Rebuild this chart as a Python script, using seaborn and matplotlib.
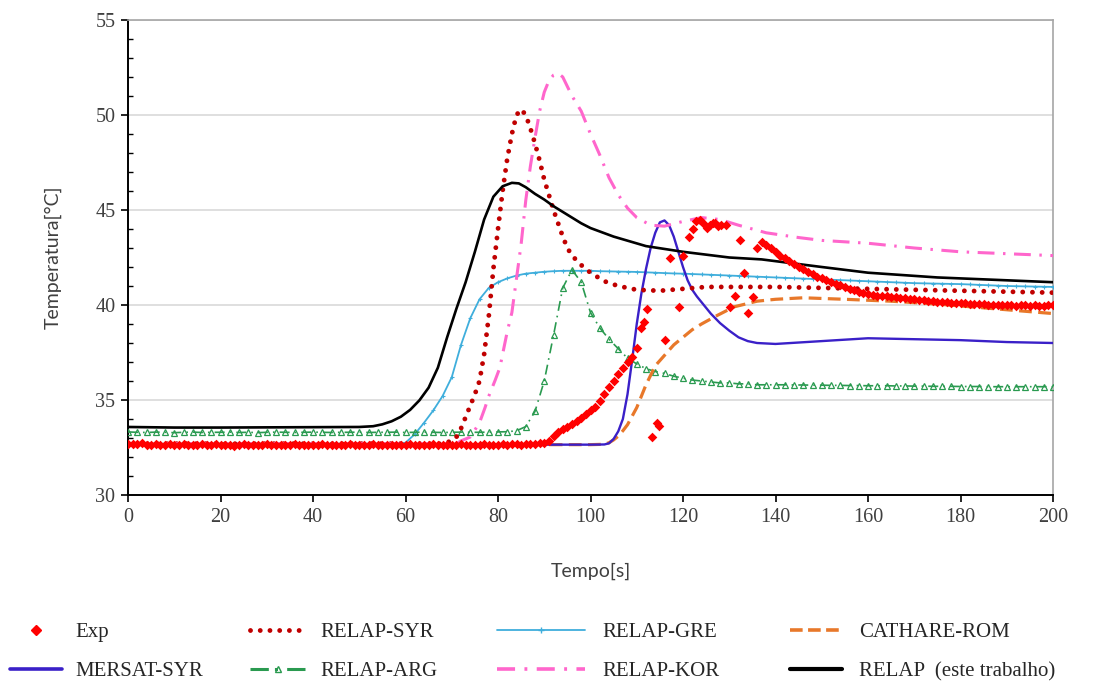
import numpy as np
import pandas as pd
import matplotlib
matplotlib.use("Agg")
import matplotlib.pyplot as plt
import seaborn as sns
from matplotlib.lines import Line2D
from matplotlib.ticker import MultipleLocator

# ---------------- data ----------------
exp_t = list(range(0, 91)) + [
    91, 92, 93, 94, 95, 96, 97, 98, 99, 100, 101, 102, 103, 104, 105, 106, 107, 108, 109, 110,
    111, 111.6, 112.2, 113.3, 114.3, 114.9, 116.1, 117.2, 119.2, 120.1, 121.3, 122.2, 122.9,
    123.7, 124.4, 125.1, 125.8, 126.4, 127.0, 127.6, 128.3, 129.3, 130.2, 131.2, 132.3, 133.2,
    134.1, 135.2, 136.0] + list(range(137, 201))
exp_y = [
    32.70, 32.68, 32.66, 32.72, 32.65, 32.63, 32.67, 32.64, 32.62, 32.66,
    32.65, 32.63, 32.66, 32.64, 32.61, 32.65, 32.67, 32.63, 32.64, 32.66,
    32.62, 32.65, 32.63, 32.60, 32.64, 32.66, 32.63, 32.65, 32.62, 32.64,
    32.66, 32.63, 32.65, 32.61, 32.64, 32.62, 32.66, 32.64, 32.63, 32.65,
    32.62, 32.64, 32.66, 32.63, 32.61, 32.65, 32.64, 32.62, 32.66, 32.63,
    32.65, 32.62, 32.64, 32.66, 32.63, 32.65, 32.62, 32.64, 32.61, 32.65,
    32.63, 32.66, 32.64, 32.62, 32.65, 32.63, 32.66, 32.64, 32.62, 32.65,
    32.64, 32.62, 32.66, 32.63, 32.65, 32.64, 32.62, 32.66, 32.64, 32.63,
    32.65, 32.67, 32.64, 32.66, 32.68, 32.65, 32.67, 32.70, 32.68, 32.72,
    32.75,
    32.85, 33.10, 33.30, 33.45, 33.60, 33.75, 33.90, 34.05, 34.25, 34.45, 34.65, 34.95, 35.30,
    35.70, 36.00, 36.35, 36.70, 37.00, 37.25, 37.75,
    38.80, 39.10, 39.80, 33.05, 33.80, 33.65, 38.15, 42.50, 39.90, 42.60, 43.60, 44.00, 44.40,
    44.50, 44.30, 44.05, 44.20, 44.30, 44.30, 44.15, 44.20, 44.20, 39.90, 40.50, 43.40, 41.70,
    39.60, 40.40, 43.00,
    43.30, 43.15, 43.00, 42.80, 42.60, 42.50, 42.30, 42.15, 42.00, 41.90,
    41.75, 41.65, 41.50, 41.40, 41.30, 41.20, 41.10, 41.05, 40.95, 40.85,
    40.80, 40.70, 40.65, 40.60, 40.55, 40.50, 40.48, 40.45, 40.42, 40.40,
    40.38, 40.35, 40.33, 40.30, 40.28, 40.25, 40.23, 40.20, 40.18, 40.15,
    40.14, 40.12, 40.10, 40.10, 40.08, 40.05, 40.06, 40.05, 40.03, 40.00,
    40.02, 40.00, 39.98, 40.00, 40.02, 39.97, 39.98, 40.00, 39.96, 39.98,
    39.97, 39.95, 39.98, 40.00]

mersat_t = [0, 50, 100, 103, 104, 105, 106, 107, 108, 109, 110, 111, 112, 113, 114, 115, 116,
            117, 118, 119, 120, 121, 122, 123, 124, 126, 128, 130, 132, 134, 136, 140, 150, 160,
            170, 180, 190, 200]
mersat_y = [32.65, 32.65, 32.65, 32.66, 32.72, 32.95, 33.35, 34.00, 35.30, 37.10, 39.00, 40.60,
            41.90, 43.00, 43.80, 44.35, 44.45, 44.20, 43.60, 42.80, 42.00, 41.30, 40.80, 40.45,
            40.15, 39.55, 39.05, 38.65, 38.30, 38.10, 38.00, 37.95, 38.10, 38.25, 38.20, 38.15,
            38.05, 38.00]

syr_t = [0, 40, 68, 70, 71, 72, 73, 74, 75, 76, 77, 78, 79, 80, 81, 82, 83, 84, 85, 86, 87, 88,
         89, 90, 91, 92, 93, 94, 95, 96, 98, 100, 103, 106, 110, 115, 120, 125, 140, 160, 180, 200]
syr_y = [32.70, 32.70, 32.70, 32.85, 33.05, 33.50, 34.10, 34.70, 35.30, 36.00, 37.40, 39.40,
         41.90, 44.00, 46.00, 47.70, 49.00, 50.00, 50.30, 50.00, 49.30, 48.50, 47.60, 46.60,
         45.80, 45.00, 44.30, 43.60, 43.00, 42.60, 42.10, 41.70, 41.25, 41.00, 40.80, 40.75,
         40.85, 40.95, 40.95, 40.85, 40.75, 40.65]

arg_t = list(range(0, 201, 2))
arg_y = [33.32, 33.30, 33.29, 33.31, 33.30, 33.28, 33.30, 33.31, 33.29, 33.30,
         33.30, 33.31, 33.29, 33.30, 33.28, 33.30, 33.31, 33.30, 33.29, 33.30,
         33.31, 33.30, 33.29, 33.30, 33.30, 33.31, 33.29, 33.30, 33.30, 33.31,
         33.29, 33.30, 33.31, 33.30, 33.29, 33.30, 33.31, 33.30, 33.30, 33.31,
         33.32, 33.33, 33.38,
         33.60, 34.40, 36.00, 38.40, 40.90, 41.85, 41.20, 39.60, 38.80, 38.20,
         37.70, 37.20, 36.90, 36.65, 36.50, 36.40, 36.25, 36.15, 36.05, 36.00,
         35.95, 35.90, 35.90, 35.85, 35.85, 35.80, 35.80, 35.80, 35.80, 35.79,
         35.79, 35.78, 35.78, 35.77, 35.77, 35.76, 35.76, 35.75, 35.75, 35.75,
         35.74, 35.74, 35.73, 35.73, 35.72, 35.72, 35.72, 35.71, 35.71, 35.71,
         35.70, 35.70, 35.70, 35.70, 35.70, 35.70, 35.70, 35.70]

gre_t = list(range(0, 201, 2))
gre_y = [32.70, 32.70, 32.70, 32.70, 32.70, 32.70, 32.70, 32.70, 32.70, 32.70,
         32.70, 32.70, 32.70, 32.70, 32.70, 32.70, 32.70, 32.70, 32.70, 32.70,
         32.70, 32.70, 32.70, 32.70, 32.70, 32.70, 32.70, 32.70, 32.70, 32.70,
         32.75, 33.20, 33.80, 34.45, 35.20, 36.20, 37.90, 39.30, 40.30, 40.90,
         41.20, 41.40, 41.55, 41.65, 41.70, 41.75, 41.78, 41.80, 41.80, 41.80,
         41.80, 41.78, 41.77, 41.76, 41.75, 41.74, 41.72, 41.70, 41.68, 41.66,
         41.65, 41.63, 41.61, 41.59, 41.57, 41.55, 41.53, 41.51, 41.49, 41.47,
         41.45, 41.43, 41.41, 41.39, 41.37, 41.35, 41.33, 41.31, 41.29, 41.27,
         41.25, 41.23, 41.21, 41.19, 41.17, 41.15, 41.14, 41.13, 41.12, 41.11,
         41.10, 41.08, 41.06, 41.04, 41.02, 41.00, 40.99, 40.98, 40.97, 40.96,
         40.95]

kor_t = [0, 40, 71, 72, 74, 76, 77.2, 78, 79.4, 80.4, 82, 83, 84, 85, 86, 87, 88, 89, 90, 91, 92,
         93, 94, 95, 96, 97, 98, 100, 102, 104, 106, 108, 110, 113, 116, 120, 124, 128, 132, 138,
         145, 150, 160, 170, 180, 190, 200]
kor_y = [32.70, 32.70, 32.70, 32.85, 33.05, 33.80, 34.60, 35.20, 36.05, 36.70, 38.60, 39.60,
         41.40, 43.20, 45.50, 47.30, 48.80, 50.20, 51.20, 51.80, 52.10, 52.20, 52.00, 51.50,
         51.00, 50.60, 50.20, 49.00, 47.90, 46.70, 45.80, 45.10, 44.60, 44.20, 44.15, 44.40,
         44.60, 44.50, 44.20, 43.80, 43.55, 43.40, 43.25, 43.00, 42.80, 42.70, 42.60]

cath_t = [0, 50, 100, 103, 104, 105, 106, 107, 108, 110, 112, 114, 116, 118, 120, 122, 124, 127,
          131, 136, 140, 146, 155, 165, 175, 185, 195, 200]
cath_y = [32.65, 32.65, 32.65, 32.67, 32.75, 32.90, 33.10, 33.38, 33.70, 34.60, 35.80, 36.80,
          37.35, 37.90, 38.30, 38.70, 39.00, 39.40, 39.90, 40.20, 40.30, 40.38, 40.30, 40.20,
          40.05, 39.85, 39.65, 39.55]

relap_t = [0, 10, 20, 30, 40, 50, 53, 55, 57, 59, 61, 63, 65, 67, 69, 71, 73, 75, 77, 79, 81,
           83, 84.5, 86, 88, 90, 92, 95, 98, 100, 105, 112, 120, 130, 137, 150, 160, 175, 190,
           200]
relap_y = [33.58, 33.55, 33.55, 33.56, 33.57, 33.58, 33.62, 33.72, 33.88, 34.12, 34.48, 34.98,
           35.65, 36.70, 38.30, 39.80, 41.20, 42.80, 44.50, 45.70, 46.25, 46.43, 46.40, 46.20,
           45.85, 45.55, 45.20, 44.75, 44.30, 44.05, 43.60, 43.10, 42.80, 42.50, 42.40, 42.00,
           41.70, 41.45, 41.30, 41.20]

# ---------------- figure ----------------
sns.set_theme(style="ticks")
plt.rcParams["font.family"] = ["Liberation Serif", "DejaVu Sans"]

fig = plt.figure(figsize=(11.2, 6.86), dpi=100)
ax = fig.add_axes([128 / 1120, 1 - 495 / 686, (1053 - 128) / 1120, (495 - 20) / 686])


def draw(t, y, **kw):
    df = pd.DataFrame({"t": t, "y": y})
    sns.lineplot(data=df, x="t", y="y", ax=ax, estimator=None, sort=False,
                 legend=False, **kw)
    return ax.lines[-1]


c_exp = "#FF0000"
c_mer = "#3A20C8"
c_syr = "#C00000"
c_arg = "#2A9A50"
c_gre = "#3FAEDC"
c_kor = "#FF66CC"
c_cat = "#E8782A"
c_rel = "#000000"

l_gre = draw(gre_t, gre_y, color=c_gre, linewidth=1.3, marker="+", markersize=3.5,
             markeredgewidth=0.8, markeredgecolor=c_gre, zorder=3)
l_arg = draw(arg_t, arg_y, color=c_arg, linewidth=1.2, linestyle=(0, (6, 3, 1, 3)),
             marker="^", markersize=5, markerfacecolor="none", markeredgecolor=c_arg,
             markeredgewidth=0.9, zorder=3)
l_cat = draw(cath_t, cath_y, color=c_cat, linewidth=2.3, linestyle=(0, (4.0, 2.0)),
             zorder=4)
l_mer = draw(mersat_t, mersat_y, color=c_mer, linewidth=1.7, zorder=4)
l_syr = draw(syr_t, syr_y, color=c_syr, linewidth=3.5, linestyle=(0, (0.001, 2.0)),
             dash_capstyle="round", zorder=5)
l_kor = draw(kor_t, kor_y, color=c_kor, linewidth=2.2, linestyle=(0, (5.5, 2.8, 0.8, 2.8)),
             zorder=5)
l_rel = draw(relap_t, relap_y, color=c_rel, linewidth=1.9, zorder=6)

sns.scatterplot(x=exp_t, y=exp_y, ax=ax, marker="D", s=24, color=c_exp, linewidth=0,
                zorder=7, legend=False)

# axes styling
ax.set_xlim(0, 200)
ax.set_ylim(30, 55)
ax.xaxis.set_major_locator(MultipleLocator(20))
ax.yaxis.set_major_locator(MultipleLocator(5))
ax.yaxis.set_minor_locator(MultipleLocator(1))
ax.grid(axis="y", which="major", color="#D9D9D9", linewidth=1.2)
ax.set_axisbelow(True)
for s in ["left", "bottom"]:
    ax.spines[s].set_color("black")
    ax.spines[s].set_linewidth(1.4)
for s in ["top", "right"]:
    ax.spines[s].set_color("#A6A6A6")
    ax.spines[s].set_linewidth(1.2)
    ax.spines[s].set_visible(True)
ax.tick_params(axis="both", which="major", direction="out", length=5, width=1.2,
               color="black", labelsize=14.5, labelcolor="#404040", pad=4)
ax.tick_params(axis="y", which="minor", direction="in", length=3.5, width=1.0, color="black")
for lab in ax.get_xticklabels() + ax.get_yticklabels():
    lab.set_fontfamily("Liberation Serif")

ax.set_xlabel("Tempo[s]", fontsize=14, family="Lato", color="#404040", labelpad=26)
ax.set_ylabel("Temperatura[°C]", fontsize=14, family="Lato", color="#404040", labelpad=24)

# legends (4 columns x 2 rows, below the plot)
h_exp = Line2D([], [], linestyle="none", marker="D", markersize=5, color=c_exp)
h_mer = Line2D([], [], color=c_mer, linewidth=2.6)
h_syr = Line2D([], [], color=c_syr, linewidth=3.5, linestyle=(0, (0.001, 2.0)),
               dash_capstyle="round")
h_arg = Line2D([], [], color=c_arg, linewidth=2.2, linestyle=(0, (6, 2, 1, 3)), marker="^",
               markersize=5, markerfacecolor="none", markeredgecolor=c_arg)
h_gre = Line2D([], [], color=c_gre, linewidth=1.3, marker="+", markersize=4,
               markeredgecolor=c_gre)
h_kor = Line2D([], [], color=c_kor, linewidth=2.6, linestyle=(0, (5, 2.6, 0.8, 2.6)))
h_cat = Line2D([], [], color=c_cat, linewidth=2.6, linestyle=(0, (3.5, 1.5)))
h_rel = Line2D([], [], color=c_rel, linewidth=3.0)

yc = 1 - 652 / 686
fs = 15
specs = [
    ([h_exp, h_mer], ["Exp", "MERSAT-SYR"], 10, 2.5, 0.63),
    ([h_syr, h_arg], ["RELAP-SYR", "RELAP-ARG"], 250, 2.64, 0.72),
    ([h_gre, h_kor], ["RELAP-GRE", "RELAP-KOR"], 497, 4.2, 0.85),
    ([h_cat, h_rel], ["CATHARE-ROM", "RELAP  (este trabalho)"], 790, 2.5, 0.8),
]
for hs, ls, x0, hl, tp in specs:
    fig.legend(hs, ls, loc="center left", bbox_to_anchor=(x0 / 1120, yc),
               frameon=False, prop={"family": "Liberation Serif", "size": fs},
               handlelength=hl, handletextpad=tp, labelspacing=0.95, borderpad=0,
               borderaxespad=0, numpoints=1)

fig.savefig("out.png", dpi=100)
